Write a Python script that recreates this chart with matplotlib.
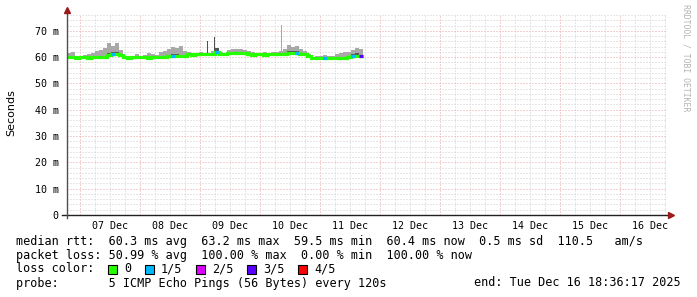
import datetime as dt
import matplotlib
matplotlib.use("Agg")
import matplotlib.pyplot as plt
import matplotlib.dates as mdates
from matplotlib.lines import Line2D
from matplotlib.patches import Rectangle

# time window of the graph
start = dt.datetime(2025, 12, 6, 18, 36, 17)
end = dt.datetime(2025, 12, 16, 18, 36, 17)
step = dt.timedelta(minutes=96)

# median rtt per sample (ms)
median_ms = [60.0, 59.9, 59.8, 59.9, 60.0, 59.8, 59.9, 60.0, 60.1, 60.2,
             60.8, 61.0, 61.1, 60.9,
             59.9, 59.8, 59.9, 59.9, 60.0, 59.9, 59.8, 59.9, 60.0, 60.1, 60.0,
             60.4, 60.5, 60.6, 60.4, 60.3,
             61.0, 60.9, 61.0, 61.1, 61.0, 61.0, 61.2, 62.0, 61.0, 61.0,
             61.5, 61.6, 61.5, 61.5, 61.4,
             61.0, 60.9, 61.0, 61.0, 60.9, 61.0, 61.0, 61.1, 61.0, 61.2,
             61.5, 61.6, 61.4, 61.3, 61.0,
             60.4,
             59.7, 59.6, 59.6, 59.7, 59.6, 59.6, 59.7, 59.6, 59.7,
             60.2, 60.4, 60.5, 60.4]

# top of the smoke (max ping) per sample (ms)
smoke_hi_ms = [61.5, 62.0, 60.6, 60.5, 60.8, 61.0, 61.4, 62.2, 62.8, 63.6,
               65.3, 64.2, 65.5, 62.8,
               60.5, 60.4, 60.6, 61.0, 60.5, 60.7, 61.5, 61.2, 60.8, 61.8, 62.2,
               63.0, 64.0, 63.5, 64.2, 62.5,
               61.8, 61.5, 61.6, 61.8, 61.5, 61.6, 62.2, 63.5, 61.8, 61.7,
               62.8, 63.2, 62.9, 63.0, 62.6,
               62.4, 61.8, 61.7, 61.6, 61.8, 61.7, 61.9, 62.0, 62.5, 63.0,
               64.6, 64.0, 64.2, 63.0, 62.2,
               61.0,
               60.2, 60.3, 60.5, 60.8, 60.4, 60.6, 61.0, 61.5, 62.0,
               61.8, 62.8, 63.5, 63.0]

# lost pings (out of 5) per sample
loss = [0] * 74
for i in [11, 26, 37, 57, 64, 71]:
    loss[i] = 1
loss[73] = 3

# darker inner smoke
dark_idx = [10, 11, 12, 26, 27, 37, 55, 56, 57, 71, 72]
dark_top_ms = [61.6, 61.9, 62.0, 61.2, 61.3, 63.5, 62.3, 62.4, 62.2, 61.2, 61.4]

# narrow spikes
spike_times = ["2025-12-09 03:00", "2025-12-09 05:48", "2025-12-10 08:36"]
spike_top_ms = [66.2, 67.8, 72.2]
spike_base_ms = [61.0, 61.5, 61.0]
spike_colors = ["#505050", "#505050", "#a8a8a8"]

loss_colors = ["#26ff00", "#00b8ff", "#dd00ff", "#5a00ff", "#ff0000"]
loss_labels = ["0", "1/5", "2/5", "3/5", "4/5"]

legend_lines = [
    "median rtt:  60.3 ms avg  63.2 ms max  59.5 ms min  60.4 ms now  0.5 ms sd  110.5   am/s",
    "packet loss: 50.99 % avg  100.00 % max  0.00 % min  100.00 % now",
    "loss color:",
    "probe:       5 ICMP Echo Pings (56 Bytes) every 120s",
]
end_text = "end: Tue Dec 16 18:36:17 2025"

W, H = 697, 297
mono = "DejaVu Sans Mono"
fig = plt.figure(figsize=(W / 100, H / 100), dpi=100)
fig.patch.set_facecolor("white")
ax = fig.add_axes([67 / W, 1 - 215 / H, 600 / W, 200 / H])
ax.set_facecolor("white")

x0 = mdates.date2num(start)
x1 = mdates.date2num(end)
ax.set_xlim(x0, x1)
ax.set_ylim(0, 76)
for s in ax.spines.values():
    s.set_visible(False)

# grid
dots = (0, (1, 2))
for v in range(2, 77, 2):
    if v % 10:
        ax.axhline(v, color="#cfcfcf", lw=0.72, ls=dots, zorder=0)
day0 = dt.datetime(2025, 12, 7)
t = day0 - dt.timedelta(hours=12)
while t < end:
    if t > start and t.hour != 0:
        ax.axvline(mdates.date2num(t), color="#cfcfcf", lw=0.72, ls=dots, zorder=0)
    t += dt.timedelta(hours=6)
for v in range(10, 77, 10):
    ax.axhline(v, color="#e4a4a4", lw=0.72, ls=dots, zorder=0.5)
days = [day0 + dt.timedelta(days=k) for k in range(10)]
for d in days:
    ax.axvline(mdates.date2num(d), color="#e4a4a4", lw=0.72, ls=dots, zorder=0.5)

# smoke
lefts = [mdates.date2num(start + i * step) for i in range(len(median_ms))]
w = step.total_seconds() / 86400
ax.bar(lefts, [h - m for h, m in zip(smoke_hi_ms, median_ms)], bottom=median_ms,
       width=w, align="edge", color="#a8a8a8", linewidth=0, zorder=1)
ax.bar([lefts[i] for i in dark_idx],
       [top - median_ms[i] for i, top in zip(dark_idx, dark_top_ms)],
       bottom=[median_ms[i] for i in dark_idx],
       width=w, align="edge", color="#555555", linewidth=0, zorder=1.2)
for ts, top, base, c in zip(spike_times, spike_top_ms, spike_base_ms, spike_colors):
    xs = mdates.date2num(dt.datetime.strptime(ts, "%Y-%m-%d %H:%M"))
    ax.bar(xs, top - base, bottom=base, width=24 / 1440, color=c, linewidth=0, zorder=1.1)

# median line coloured by loss
edges = lefts + [lefts[-1] + w]
ax.stairs(median_ms, edges, color=loss_colors[0], lw=2.3, zorder=2, baseline=None)
for i, l in enumerate(loss):
    if l:
        ax.hlines(median_ms[i], edges[i], edges[i + 1], color=loss_colors[l], lw=2.3, zorder=3)

# ticks
ax.set_yticks(range(0, 71, 10))
ax.set_yticklabels(["0"] + [f"{v} m" for v in range(10, 71, 10)])
ax.set_xticks([mdates.date2num(d + dt.timedelta(hours=12)) for d in days])
ax.set_xticklabels([d.strftime("%d %b") for d in days])
ax.tick_params(axis="both", length=0, labelsize=7.2, labelcolor="black")
ax.tick_params(axis="y", pad=6)
ax.tick_params(axis="x", pad=4)
for lab in ax.get_xticklabels() + ax.get_yticklabels():
    lab.set_family(mono)

# axes lines and arrows
fig.add_artist(Line2D([62 / W, 670 / W], [1 - 215 / H, 1 - 215 / H], color="#202020", lw=1))
fig.add_artist(Line2D([67 / W, 67 / W], [1 - 218 / H, 1 - 12 / H], color="#505050", lw=1))
fig.add_artist(Line2D([67 / W], [1 - 10 / H], marker="^", color="#9b1b1b", markersize=4, lw=0))
fig.add_artist(Line2D([671 / W], [1 - 215 / H], marker=">", color="#9b1b1b", markersize=4, lw=0))

# labels
fig.text(11 / W, 1 - 113 / H, "Seconds", rotation=90, ha="center", va="center", fontsize=8)
fig.text(686 / W, 1 - 4 / H, "RRDTOOL / TOBI OETIKER", rotation=270, ha="center", va="top",
         fontsize=5.9, color="#b4b4b4", family=mono)

# legend
ys = [241, 255, 269, 283]
for line, y in zip(legend_lines, ys):
    fig.text(16 / W, 1 - y / H, line, ha="left", va="center", fontsize=8.45, family=mono)
fig.text(681 / W, 1 - 283 / H, end_text, ha="right", va="center", fontsize=8.45, family=mono)
box_x = [108, 145, 196, 247, 298]
for bx, c, lab in zip(box_x, loss_colors, loss_labels):
    fig.add_artist(Rectangle((bx / W, 1 - 274 / H), 9 / W, 9 / H, facecolor=c,
                             edgecolor="black", lw=0.8))
    fig.text((bx + 16) / W, 1 - 269 / H, lab, ha="left", va="center", fontsize=8.45, family=mono)

fig.savefig("out.png", dpi=100)
